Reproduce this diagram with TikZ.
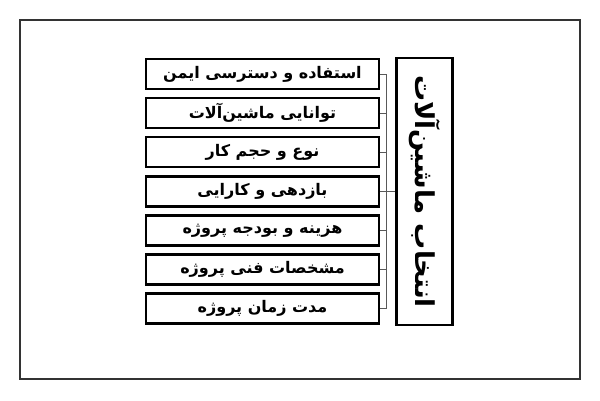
\documentclass[tikz,border=0pt]{standalone}
\usepackage{fontspec}
\TeXXeTstate=1
\newfontfamily\arabicfont[Script=Arabic]{DejaVu Sans}
\begin{document}
\begin{tikzpicture}[x=1pt,y=-1pt,
  itembox/.style={draw=black,line width=2.2pt,fill=white,minimum width=233pt,minimum height=30pt,inner sep=0pt,font=\arabicfont\bfseries\fontsize{16}{18}\selectfont},
  mainbox/.style={draw=black,line width=2.2pt,fill=white,minimum width=56pt,minimum height=267pt,inner sep=0pt},
  conn/.style={draw=black!65,line width=0.8pt}]
\useasboundingbox (0,0) rectangle (600,400);
\draw[black!80,line width=1.5pt] (20,20) rectangle (580,379);
\node[itembox] (b1) at (262.5,74) {\beginR استفاده و دسترسی ایمن\endR};
\node[itembox] (b2) at (262.5,113) {\beginR توانایی ماشین‌آلات\endR};
\node[itembox] (b3) at (262.5,152) {\beginR نوع و حجم کار\endR};
\node[itembox] (b4) at (262.5,191.5) {\beginR بازدهی و کارایی\endR};
\node[itembox] (b5) at (262.5,230.5) {\beginR هزینه و بودجه پروژه\endR};
\node[itembox] (b6) at (262.5,269.5) {\beginR مشخصات فنی پروژه\endR};
\node[itembox] (b7) at (262.5,308.5) {\beginR مدت زمان پروژه\endR};
\node[mainbox] (m) at (424.5,191.5) {};
\node[rotate=-90,font=\arabicfont\bfseries\fontsize{26}{30}\selectfont] (mt) at (m.center) {\beginR انتخاب  ماشین‌آلات\endR};
\coordinate (j) at (386.5,191.5);
\coordinate (jt) at (386.5,74);
\coordinate (jb) at (386.5,308.5);
\draw[conn] (jt) -- (jb);
\foreach \i in {1,...,7}{
  \draw[conn] (b\i.east) -- (b\i.east -| j);
}
\draw[conn] (j) -- (m.west);
\end{tikzpicture}
\end{document}
